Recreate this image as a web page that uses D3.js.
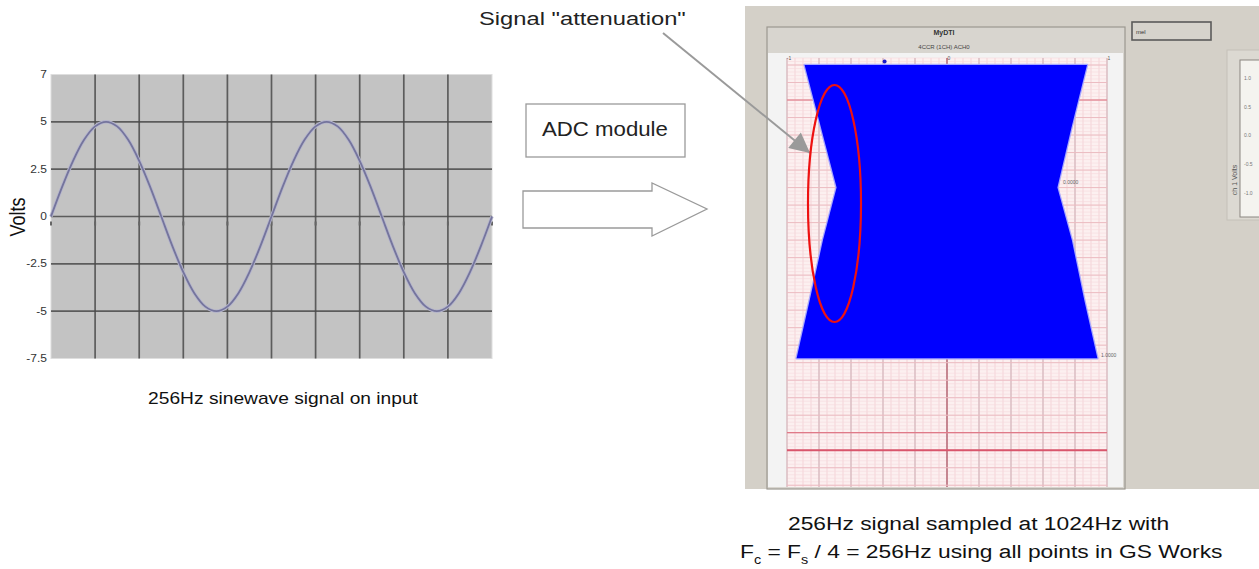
<!DOCTYPE html>
<html>
<head>
<meta charset="utf-8">
<script src="https://cdn.jsdelivr.net/npm/d3@7"></script>
<style>
  body { margin: 0; background: #fff; }
  svg { display: block; font-family: "Liberation Sans", Arial, sans-serif; }
</style>
</head>
<body>
<script>
// ---------- data ----------
// input signal (left chart): x in grid divisions, value in volts
var sineT = [0, 0.25, 0.5, 0.75, 1, 1.25, 1.5, 1.75, 2, 2.25, 2.5, 2.75, 3, 3.25, 3.5, 3.75, 4, 4.25, 4.5, 4.75,
             5, 5.25, 5.5, 5.75, 6, 6.25, 6.5, 6.75, 7, 7.25, 7.5, 7.75, 8, 8.25, 8.5, 8.75, 9, 9.25, 9.5, 9.75, 10];
var sineV = [0, 1.55, 2.94, 4.05, 4.76, 5, 4.76, 4.05, 2.94, 1.55, 0, -1.55, -2.94, -4.05, -4.76, -5, -4.76, -4.05, -2.94, -1.55,
             0, 1.55, 2.94, 4.05, 4.76, 5, 4.76, 4.05, 2.94, 1.55, 0, -1.55, -2.94, -4.05, -4.76, -5, -4.76, -4.05, -2.94, -1.55, 0];
var voltTicks = [7.5, 5, 2.5, 0, -2.5, -5, -7.5];
var voltTickLabels = ["7", "5", "2.5", "0", "-2.5", "-5", "-7.5"];
var voltGrid = [5, 2.5, 0, -2.5, -5];
var divGrid = [1, 2, 3, 4, 5, 6, 7, 8, 9];
var divTicks = [0, 1, 2, 3, 4, 5, 6, 7, 8, 9, 10];

// sampled signal (GS Works screenshot): envelope per time row, amplitude -1..1
var envRow = [0, 3.5, 7, 10, 13.5, 16.75];
var envLow = [-0.89, -0.79, -0.69, -0.775, -0.86, -0.94];
var envHigh = [0.875, 0.78, 0.69, 0.78, 0.86, 0.94];
var spikeRow = [-0.2];
var spikeAmp = [-0.39];
var ampLabels = ["-1", "0", "1"];
var ampLabelVals = [-1, 0, 1];
var redRows = [2, 21];
var legendLabels = ["1.0", "0.5", "0.0", "-0.5", "-1.0"];

var svg = d3.select("body").append("svg")
    .attr("width", 1259)
    .attr("height", 569);

// text helper - picture is a bit stretched horizontally, so text gets scaleX
function label(parent, x, y, str, size, anchor, sx, rot) {
    var tr = "translate(" + x + "," + y + ") scale(" + sx + ",1)" + (rot ? " rotate(" + rot + ")" : "");
    return parent.append("text")
        .attr("transform", tr)
        .attr("font-size", size)
        .attr("text-anchor", anchor || "start")
        .attr("fill", "#111")
        .text(str);
}
function fitLabel(parent, x, y, str, size, anchor, width) {
    var t = label(parent, x, y, str, size, anchor, 1);
    var w = t.node().getComputedTextLength();
    t.attr("transform", "translate(" + x + "," + y + ") scale(" + (width / w) + ",1)");
    return t;
}

// ---------- left chart ----------
var left = svg.append("g");
var x = d3.scaleLinear().domain([0, 10]).range([51, 492]);
var y = d3.scaleLinear().domain([-7.5, 7.5]).range([358.5, 74.5]);

left.append("rect")
    .attr("x", x(0)).attr("y", y(7.5))
    .attr("width", x(10) - x(0)).attr("height", y(-7.5) - y(7.5))
    .attr("fill", "#c3c3c3")
    .attr("stroke", "#dedede");

left.selectAll(".hgrid").data(voltGrid).enter().append("line")
    .attr("x1", x(0)).attr("x2", x(10))
    .attr("y1", d => y(d)).attr("y2", d => y(d))
    .attr("stroke", "#4a4a4a").attr("stroke-width", 1.7).attr("stroke-opacity", 0.85);

left.selectAll(".vgrid").data(divGrid).enter().append("line")
    .attr("x1", d => x(d)).attr("x2", d => x(d))
    .attr("y1", y(7.5)).attr("y2", y(-7.5))
    .attr("stroke", "#4a4a4a").attr("stroke-width", 1.7).attr("stroke-opacity", 0.85);

// little ticks under the zero line
left.selectAll(".xtick").data(divTicks).enter().append("line")
    .attr("x1", d => x(d)).attr("x2", d => x(d))
    .attr("y1", y(0) + 5).attr("y2", y(0) + 9)
    .attr("stroke", "#666").attr("stroke-width", 2);

var sineLine = d3.line()
    .x((d, i) => x(sineT[i]))
    .y(d => y(d))
    .curve(d3.curveCatmullRom);

left.append("path")
    .datum(sineV)
    .attr("d", sineLine)
    .attr("fill", "none")
    .attr("stroke", "#b4b4cc")
    .attr("stroke-width", 3.5);
left.append("path")
    .datum(sineV)
    .attr("d", sineLine)
    .attr("fill", "none")
    .attr("stroke", "#74749c")
    .attr("stroke-width", 1.8);

voltTicks.forEach(function(v, i) {
    label(left, 47, y(v) + 3.5, voltTickLabels[i], 10, "end", 1.2).attr("fill", "#333");
});

label(left, 25, 217, "Volts", 18, "middle", 1.2, -90);
label(left, 283, 404, "256Hz sinewave signal on input", 16, "middle", 1.2);

// ---------- middle: ADC box + arrow ----------
var mid = svg.append("g");
mid.append("rect")
    .attr("x", 526).attr("y", 104).attr("width", 159).attr("height", 53)
    .attr("fill", "#fff").attr("stroke", "#9a9a9a").attr("stroke-width", 1.3);
fitLabel(mid, 542, 136, "ADC module", 19.5, "start", 126).attr("fill", "#222");

mid.append("path")
    .attr("d", "M523,191 L652,191 L652,183 L707,209 L652,236 L652,228 L523,228 Z")
    .attr("fill", "#fff").attr("stroke", "#9a9a9a").attr("stroke-width", 1.3);

// ---------- right: GS Works screenshot ----------
var right = svg.append("g");
right.append("rect")
    .attr("x", 745).attr("y", 6).attr("width", 514).attr("height", 483)
    .attr("fill", "#d4d0c8");
right.append("rect")
    .attr("x", 767).attr("y", 27).attr("width", 358).attr("height", 462)
    .attr("fill", "#d8d5cf").attr("stroke", "#9c9890").attr("stroke-width", 1.2);
right.append("rect")
    .attr("x", 768).attr("y", 53).attr("width", 355).attr("height", 434)
    .attr("fill", "#f3f3f3");
label(right, 944, 35, "MyDTI", 7, "middle", 1).attr("font-weight", "bold").attr("fill", "#333");
label(right, 944, 49, "4CCR (1CH) ACH0", 6, "middle", 1).attr("fill", "#444");

var rx = d3.scaleLinear().domain([-1, 1]).range([787, 1107]);
var ry = d3.scaleLinear().domain([-0.4, 24.1]).range([58, 487]);

var grid = right.append("g");
grid.append("rect")
    .attr("x", rx(-1)).attr("y", ry(-0.4))
    .attr("width", rx(1) - rx(-1)).attr("height", ry(24.1) - ry(-0.4))
    .attr("fill", "#fcf0f0");

grid.selectAll(".vmin").data(rx.ticks(50)).enter().append("line")
    .attr("x1", d => rx(d)).attr("x2", d => rx(d))
    .attr("y1", ry(-0.4)).attr("y2", ry(24.1))
    .attr("stroke", "#f2cdd2").attr("stroke-width", 0.8);
grid.selectAll(".hmin").data(ry.ticks(120)).enter().append("line")
    .attr("x1", rx(-1)).attr("x2", rx(1))
    .attr("y1", d => ry(d)).attr("y2", d => ry(d))
    .attr("stroke", "#f6dade").attr("stroke-width", 0.6);
grid.selectAll(".vmaj").data(rx.ticks(10)).enter().append("line")
    .attr("x1", d => rx(d)).attr("x2", d => rx(d))
    .attr("y1", ry(-0.4)).attr("y2", ry(24.1))
    .attr("stroke", d => d === 0 ? "#b0606e" : "#cdb0b6")
    .attr("stroke-width", d => d === 0 ? 1.4 : 1);
grid.selectAll(".hmaj").data(ry.ticks(24)).enter().append("line")
    .attr("x1", rx(-1)).attr("x2", rx(1))
    .attr("y1", d => ry(d)).attr("y2", d => ry(d))
    .attr("stroke", "#ecbcc2").attr("stroke-width", 1);
grid.selectAll(".hred").data(redRows).enter().append("line")
    .attr("x1", rx(-1)).attr("x2", rx(1))
    .attr("y1", d => ry(d)).attr("y2", d => ry(d))
    .attr("stroke", "#e07a88").attr("stroke-width", 1.2);
grid.append("line")
    .attr("x1", rx(-1)).attr("x2", rx(1))
    .attr("y1", ry(22)).attr("y2", ry(22))
    .attr("stroke", "#d9566c").attr("stroke-width", 2);

var envArea = d3.area()
    .y((d, i) => ry(envRow[i]))
    .x0(d => rx(d[0]))
    .x1(d => rx(d[1]));
var envData = envRow.map((r, i) => [envLow[i], envHigh[i]]);

right.append("path")
    .datum(envData)
    .attr("d", envArea)
    .attr("fill", "#0000ff")
    .attr("stroke", "#a8a8ff")
    .attr("stroke-width", 2.5)
    .attr("stroke-linejoin", "round");
right.append("path")
    .datum(envData)
    .attr("d", envArea)
    .attr("fill", "#0000ff");

right.selectAll(".spike").data(spikeRow).enter().append("circle")
    .attr("cx", (d, i) => rx(spikeAmp[i]))
    .attr("cy", d => ry(d))
    .attr("r", 2)
    .attr("fill", "#1a1acc");

ampLabelVals.forEach(function(v, i) {
    label(right, rx(v) + 2, 60, ampLabels[i], 5, "middle", 1).attr("fill", "#555");
});
label(right, 1063, 184, "0.0000", 5, "start", 1).attr("fill", "#666");
label(right, 1101, 357, "1.0000", 5, "start", 1).attr("fill", "#666");

// small text box top right
right.append("rect")
    .attr("x", 1132).attr("y", 22).attr("width", 79).attr("height", 18)
    .attr("fill", "#d6d3cc").attr("stroke", "#5a5a5a").attr("stroke-width", 1.6);
label(right, 1136, 34, "mel", 6, "start", 1).attr("fill", "#333");

// legend panel, cut off by the right edge
right.append("rect")
    .attr("x", 1227).attr("y", 50).attr("width", 40).attr("height", 170)
    .attr("fill", "#dcd9d2").attr("stroke", "#c4c0b8");
right.append("rect")
    .attr("x", 1240).attr("y", 60).attr("width", 30).attr("height", 157)
    .attr("fill", "#f4f3ef").attr("stroke", "#8a8680");
legendLabels.forEach(function(s, i) {
    label(right, 1244, 80 + i * 28.7, s, 5, "start", 1).attr("fill", "#777");
});
label(right, 1237, 180, "ch 1 Volts", 7, "middle", 1, -90).attr("fill", "#555");

// ---------- annotation ----------
var ann = svg.append("g");
svg.append("defs").append("marker")
    .attr("id", "head")
    .attr("viewBox", "0 0 10 10")
    .attr("refX", 10).attr("refY", 5)
    .attr("markerWidth", 11).attr("markerHeight", 10)
    .attr("markerUnits", "strokeWidth")
    .attr("orient", "auto")
    .append("path")
    .attr("d", "M0,0 L10,5 L0,10 Z")
    .attr("fill", "#9a9a9a");

ann.append("line")
    .attr("x1", 663).attr("y1", 33)
    .attr("x2", 810).attr("y2", 153)
    .attr("stroke", "#9a9a9a").attr("stroke-width", 2)
    .attr("marker-end", "url(#head)");

ann.append("ellipse")
    .attr("cx", 834.5).attr("cy", 203.5)
    .attr("rx", 26.5).attr("ry", 118.5)
    .attr("fill", "none")
    .attr("stroke", "#ee1111").attr("stroke-width", 2.2);

fitLabel(ann, 479, 25, "Signal \"attenuation\"", 18.5, "start", 207).attr("fill", "#222");

// ---------- captions ----------
label(svg, 788, 530, "256Hz signal sampled at 1024Hz with", 19, "start", 1.2);
var l2 = label(svg, 740, 558, "", 19, "start", 1.2);
l2.append("tspan").text("F");
l2.append("tspan").attr("font-size", 12).attr("dy", 6).text("c");
l2.append("tspan").attr("dy", -6).text(" = F");
l2.append("tspan").attr("font-size", 12).attr("dy", 6).text("s");
l2.append("tspan").attr("dy", -6).text(" / 4 = 256Hz using all points in GS Works");
</script>
</body>
</html>
